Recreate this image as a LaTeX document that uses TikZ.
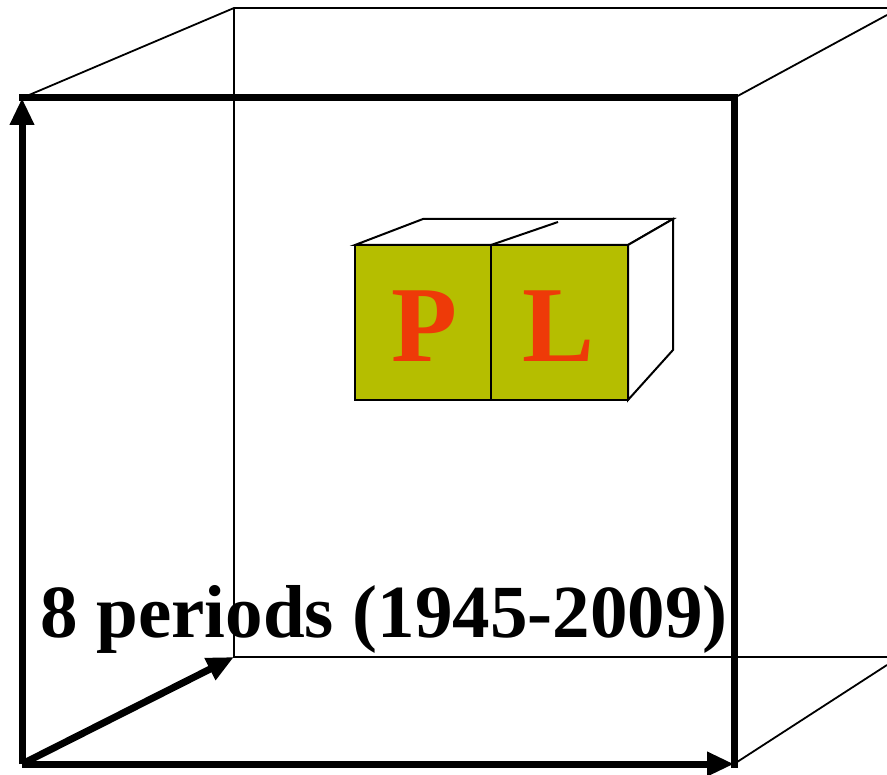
\documentclass[tikz,border=0pt]{standalone}
\usepackage{fontspec}
\setmainfont{Liberation Serif}
\usetikzlibrary{arrows.meta}
\definecolor{olivefill}{HTML}{B5BE00}
\definecolor{letterred}{HTML}{EE3A08}
\begin{document}
\begin{tikzpicture}[x=1pt,y=-1pt,
  thinedge/.style={line width=1.8pt, line join=miter},
  thickedge/.style={line width=7pt, line join=miter, line cap=rect},
  axisarrow/.style={line width=7pt, -{Triangle[length=27pt,width=23pt]}},
  smallbox/.style={line width=2pt, line join=miter},
  letter/.style={text=letterred, font=\fontsize{108}{108}\selectfont\bfseries, inner sep=0pt, anchor=base},
  caption/.style={font=\fontsize{75}{75}\selectfont\bfseries, inner sep=0pt, anchor=base west}]
\useasboundingbox (0,0) rectangle (887,775);
% big cube corners
\coordinate (ftl) at (22,98);
\coordinate (ftr) at (734,98);
\coordinate (fbr) at (734,764);
\coordinate (fbl) at (22,764);
\coordinate (btl) at (234,8);
\coordinate (bbl) at (234,657);
\coordinate (btrE) at (887,8);
\coordinate (bbrE) at (887,657);
\coordinate (trD) at (887,15);
\coordinate (brD) at (887,665);
% back thin edges
\draw[thinedge] (ftl) -- (btl) -- (btrE);
\draw[thinedge] (btl) -- (bbl) -- (bbrE);
\draw[thinedge] (ftr) -- (trD);
\draw[thinedge] (fbr) -- (brD);
% small box
\coordinate (s1) at (355,245);
\coordinate (s2) at (491,245);
\coordinate (s3) at (628,245);
\coordinate (s4) at (628,400);
\coordinate (s5) at (491,400);
\coordinate (s6) at (355,400);
\coordinate (s7) at (423,219);
\coordinate (s8) at (673,219);
\coordinate (s9) at (673,350);
\coordinate (s10) at (558,222);
\fill[olivefill] (s1) rectangle (s4);
\draw[smallbox, fill=white] (s1) -- (s7) -- (s8) -- (s3) -- cycle;
\draw[smallbox, fill=white] (s3) -- (s8) -- (s9) -- (s4) -- cycle;
\draw[smallbox] (s1) rectangle (s4);
\draw[smallbox] (s2) -- (s5);
\draw[smallbox] (s2) -- (s10);
\node[letter] (P) at (424,362) {P};
\node[letter] (L) at (559,362) {L};
% caption
\node[caption] (cap) at (40,637) {8 periods (1945-2009)};
% front face thick edges
\draw[thickedge] (ftl) -- (ftr) -- (fbr);
\draw[axisarrow] (fbl) -- (ftl);
\draw[axisarrow] (fbl) -- (fbr);
\draw[axisarrow] (fbl) -- (bbl);
\end{tikzpicture}
\end{document}
